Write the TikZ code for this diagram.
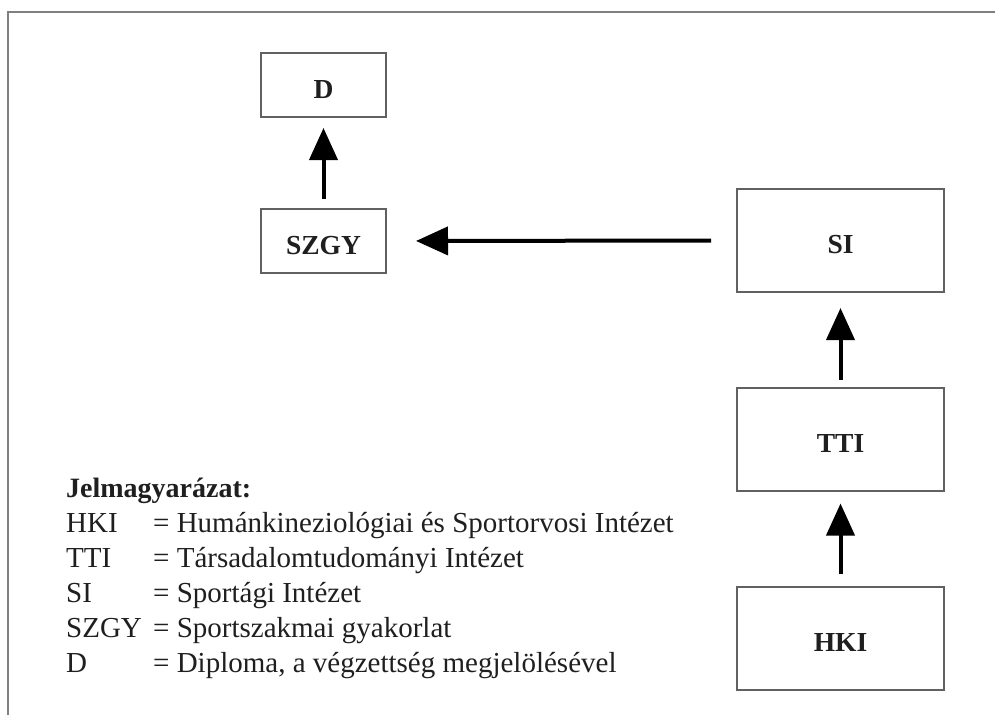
\documentclass[tikz,border=0pt]{standalone}
\usepackage{fontspec}
\setmainfont{Liberation Serif}
\usetikzlibrary{arrows.meta}

\definecolor{boxline}{gray}{0.38}
\definecolor{frameline}{gray}{0.50}
\definecolor{inkdark}{gray}{0.12}

\tikzset{
  unitbox/.style={draw=boxline, line width=2pt, fill=white,
    text=inkdark, font=\fontsize{27.5}{27.5}\selectfont\bfseries,
    inner sep=0pt, text height=30pt, text depth=4pt},
  smallbox/.style={unitbox, minimum width=125pt, minimum height=64pt},
  bigbox/.style={unitbox, minimum width=207pt, minimum height=103pt},
  flow/.style={line width=4pt, draw=black,
    -{Triangle[length=32pt, width=28pt]}},
  legendtext/.style={anchor=base west, inner sep=0pt, text=inkdark,
    font=\fontsize{29}{35}\selectfont},
  legendhead/.style={legendtext, font=\fontsize{28}{35}\selectfont\bfseries}
}

\begin{document}
\begin{tikzpicture}[x=1pt, y=-1pt]
  \useasboundingbox (0,0) rectangle (995,715);
  \fill[white] (0,0) rectangle (995,715);

  % outer frame (open to the right and at the bottom)
  \draw[frameline, line width=2.5pt] (8,715) -- (8,12) -- (995,12);

  % units
  \node[smallbox] (d)    at (323.5, 85)   {D};
  \node[smallbox] (szgy) at (323.5, 241)  {SZGY};
  \node[bigbox]   (si)   at (840.5, 240.5) {SI};
  \node[bigbox]   (tti)  at (840.5, 439)  {TTI};
  \node[bigbox]   (hki)  at (840.5, 638.5) {HKI};

  % flow of the programme
  \draw[flow, shorten <=12pt, shorten >=12pt] (hki.north) -- (tti.south);
  \draw[flow, shorten <=7pt,  shorten >=15pt] (tti.north) -- (si.south);
  \draw[flow, shorten <=25pt, shorten >=29pt] (si.west) -- (szgy.east);
  \draw[flow, shorten <=9pt,  shorten >=10pt] (szgy.north) -- (d.south);

  % legend
  \node[legendhead] (lhead) at (66,497) {Jelmagyarázat:};
  \node[legendtext] (lk1) at (66,532) {HKI};
  \node[legendtext] (lv1) at (153,532) {= Humánkineziológiai és Sportorvosi Intézet};
  \node[legendtext] (lk2) at (66,567) {TTI};
  \node[legendtext] (lv2) at (153,567) {= Társadalomtudományi Intézet};
  \node[legendtext] (lk3) at (66,602) {SI};
  \node[legendtext] (lv3) at (153,602) {= Sportági Intézet};
  \node[legendtext] (lk4) at (66,637) {SZGY};
  \node[legendtext] (lv4) at (153,637) {= Sportszakmai gyakorlat};
  \node[legendtext] (lk5) at (66,672) {D};
  \node[legendtext] (lv5) at (153,672) {= Diploma, a végzettség megjelölésével};
\end{tikzpicture}
\end{document}
